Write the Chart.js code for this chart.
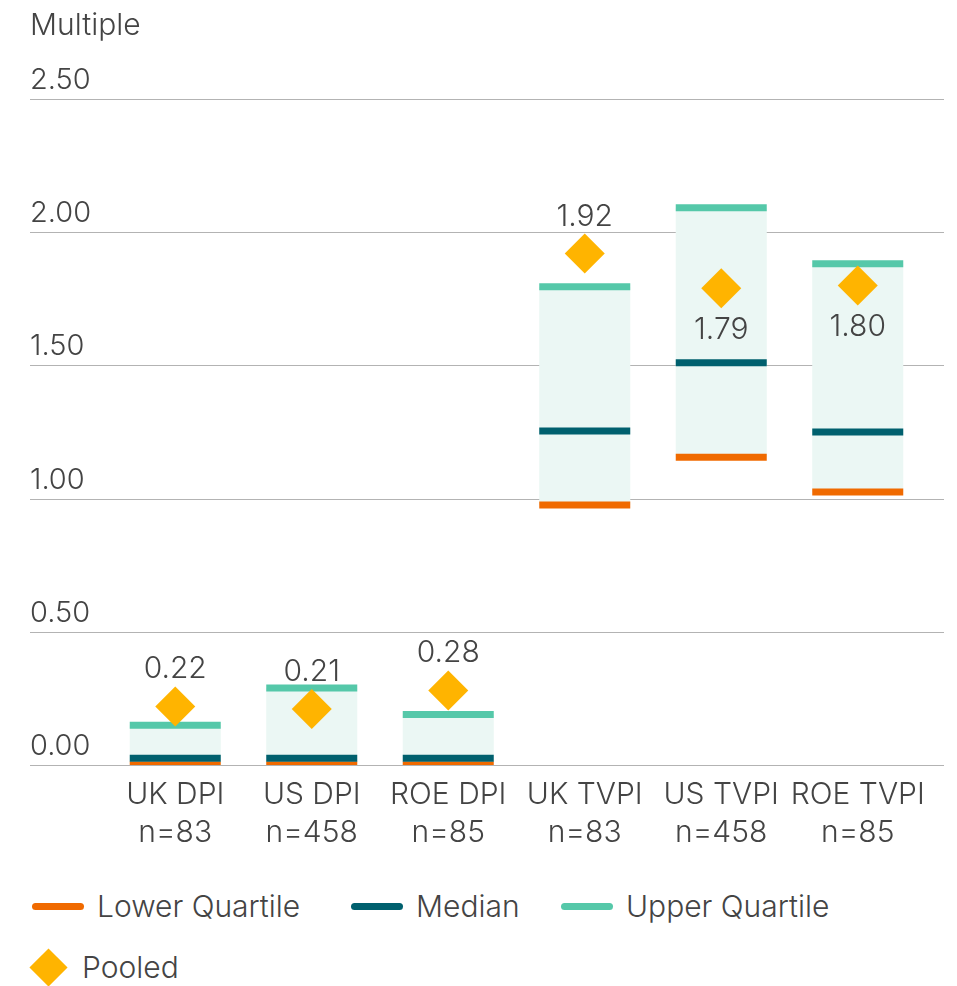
<!DOCTYPE html>
<html>
<head>
<meta charset="utf-8">
<script src="https://cdn.jsdelivr.net/npm/chart.js@4"></script>
<style>
  body { margin: 0; background: #fff; font-family: Inter, "Noto Sans", sans-serif; font-weight: 300; color: #444; }
  #wrap { position: relative; width: 957px; height: 986px; }
  #box { position: absolute; left: 0; top: 0; width: 957px; height: 870px; }
  .leg { position: absolute; font-size: 30px; line-height: 1; white-space: nowrap; }
  .mk { position: absolute; width: 52px; height: 7px; border-radius: 4px; }
  .dia { position: absolute; width: 27px; height: 27px; background: #ffb400; transform: rotate(45deg); }
</style>
</head>
<body>
<div id="wrap">
  <div id="box"><canvas id="chart"></canvas></div>
  <div class="mk" style="left:32px;top:903px;background:#f06a00"></div>
  <div class="leg" style="left:97px;top:891px">Lower Quartile</div>
  <div class="mk" style="left:351px;top:903px;background:#00606e"></div>
  <div class="leg" style="left:416px;top:891px">Median</div>
  <div class="mk" style="left:561px;top:903px;background:#55c8a9"></div>
  <div class="leg" style="left:626px;top:891px">Upper Quartile</div>
  <div class="dia" style="left:35px;top:954px"></div>
  <div class="leg" style="left:82px;top:952px">Pooled</div>
</div>
<script>
// data
var categories = [["UK DPI", "n=83"], ["US DPI", "n=458"], ["ROE DPI", "n=85"],
                  ["UK TVPI", "n=83"], ["US TVPI", "n=458"], ["ROE TVPI", "n=85"]];
var lowerQuartile = [0.00, 0.00, 0.00, 0.976, 1.155, 1.025];
var median        = [0.025, 0.025, 0.025, 1.254, 1.51, 1.25];
var upperQuartile = [0.149, 0.289, 0.19, 1.795, 2.092, 1.882];
var pooled        = [0.22, 0.21, 0.28, 1.92, 1.79, 1.80];
var yTicks = [0, 0.5, 1, 1.5, 2, 2.5];

// where the pooled value label sits relative to its diamond
var pooledLabelSide = ["above", "above", "above", "above", "below", "below"];

var textColor = "#444";
var fontFam = "Inter, 'Noto Sans', sans-serif";

var decor = {
  id: "decor",
  beforeDatasetsDraw: function(chart) {
    var ctx = chart.ctx, y = chart.scales.y;
    ctx.save();
    ctx.strokeStyle = "#b3b3b3";
    ctx.lineWidth = 1;
    ctx.fillStyle = textColor;
    ctx.font = "300 29px " + fontFam;
    ctx.textAlign = "left";
    ctx.textBaseline = "alphabetic";
    yTicks.forEach(function(v) {
      var py = Math.round(y.getPixelForValue(v)) + 0.5;
      ctx.beginPath();
      ctx.moveTo(30, py);
      ctx.lineTo(944, py);
      ctx.stroke();
      ctx.fillText(v.toFixed(2), 30, py - 11);
    });
    ctx.font = "300 30px " + fontFam;
    ctx.fillText("Multiple", 30, 35);
    ctx.restore();
  },
  afterDatasetsDraw: function(chart) {
    var ctx = chart.ctx;
    var meta = chart.getDatasetMeta(0);
    ctx.save();
    ctx.fillStyle = textColor;
    ctx.font = "300 30px " + fontFam;
    ctx.textAlign = "center";
    ctx.textBaseline = "alphabetic";
    meta.data.forEach(function(pt, i) {
      var ty = pooledLabelSide[i] === "above" ? pt.y - 28 : pt.y + 51;
      ctx.fillText(pooled[i].toFixed(2), pt.x, ty);
    });
    ctx.restore();
  }
};

new Chart(document.getElementById("chart"), {
  type: "bar",
  data: {
    labels: categories,
    datasets: [
      {
        type: "line", label: "Pooled", data: pooled, order: 0,
        showLine: false, pointStyle: "rectRot", pointRadius: 20,
        pointBackgroundColor: "#ffb400", pointBorderWidth: 0
      },
      {
        type: "line", label: "Upper Quartile", data: upperQuartile, order: 1,
        showLine: false, pointStyle: "line", pointRadius: 45.5,
        pointBorderColor: "#55c8a9", pointBorderWidth: 7
      },
      {
        type: "line", label: "Median", data: median, order: 2,
        showLine: false, pointStyle: "line", pointRadius: 45.5,
        pointBorderColor: "#00606e", pointBorderWidth: 7
      },
      {
        type: "line", label: "Lower Quartile", data: lowerQuartile, order: 3,
        showLine: false, pointStyle: "line", pointRadius: 45.5,
        pointBorderColor: "#f06a00", pointBorderWidth: 7
      },
      {
        label: "Range", order: 4,
        data: lowerQuartile.map(function(v, i) { return [v, upperQuartile[i]]; }),
        backgroundColor: "#ebf7f4",
        categoryPercentage: 1, barPercentage: 0.667
      }
    ]
  },
  options: {
    responsive: true,
    maintainAspectRatio: false,
    animation: false,
    events: [],
    layout: { autoPadding: false, padding: { top: 99, left: 107, right: 31, bottom: 0 } },
    plugins: { legend: { display: false }, tooltip: { enabled: false } },
    scales: {
      y: { display: false, min: 0, max: 2.5 },
      x: {
        grid: { display: false, drawTicks: false },
        border: { display: false },
        ticks: {
          color: textColor, padding: 11, maxRotation: 0, autoSkip: false,
          font: { family: fontFam, size: 30, weight: 300, lineHeight: 1.27 }
        },
        afterFit: function(s) {
          s.height = 105;
          s.paddingLeft = 0;
          s.paddingRight = 0;
        }
      }
    }
  },
  plugins: [decor]
});
</script>
</body>
</html>
